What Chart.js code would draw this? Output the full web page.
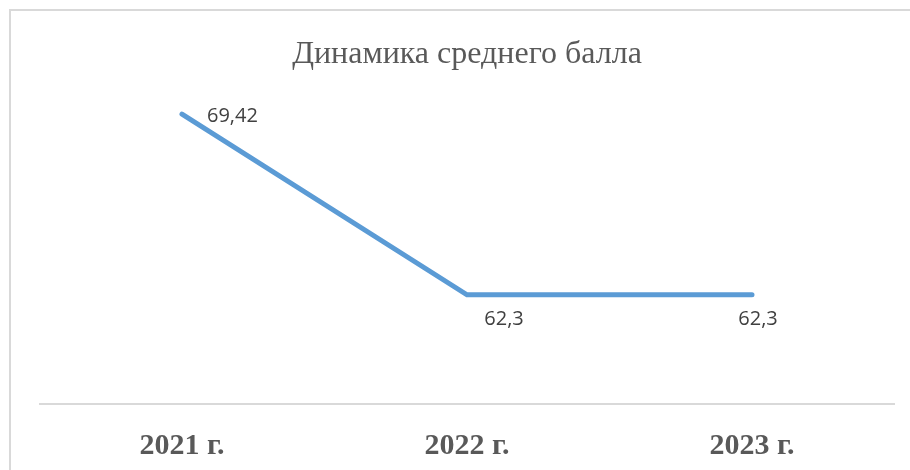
<!DOCTYPE html>
<html>
<head>
<meta charset="utf-8">
<script src="https://cdn.jsdelivr.net/npm/chart.js@4"></script>
<style>
  html, body { margin: 0; padding: 0; background: #ffffff; }
  #wrap { position: relative; width: 910px; height: 470px; overflow: hidden; }
  #frame { position: absolute; left: 9px; top: 9px; width: 940px; height: 500px; border: 2px solid #d9d9d9; box-sizing: border-box; }
  #c { position: absolute; left: 0; top: 0; }
</style>
</head>
<body>
<div id="wrap">
  <div id="frame"></div>
  <canvas id="c" width="910" height="470"></canvas>
</div>
<script>
const categories = ['2021 г.', '2022 г.', '2023 г.'];
const averageScore = [69.42, 62.3, 62.3];
const valueLabels = ['69,42', '62,3', '62,3'];
const chartTitle = 'Динамика среднего балла';

// label placement (style): dx, dy from point, text alignment
const labelPlacement = [
  { dx: 25, dy: 2, align: 'left' },
  { dx: 37, dy: 24, align: 'center' },
  { dx: 6, dy: 24, align: 'center' }
];

const valueLabelPlugin = {
  id: 'valueLabels',
  afterDatasetsDraw(chart) {
    const ctx = chart.ctx;
    const meta = chart.getDatasetMeta(0);
    ctx.save();
    ctx.font = '20px "Open Sans", sans-serif';
    ctx.fillStyle = '#404040';
    ctx.textBaseline = 'middle';
    meta.data.forEach((pt, i) => {
      const p = labelPlacement[i];
      ctx.textAlign = p.align;
      ctx.fillText(valueLabels[i], pt.x + p.dx, pt.y + p.dy);
    });
    ctx.restore();
  }
};

new Chart(document.getElementById('c'), {
  type: 'line',
  data: {
    labels: categories,
    datasets: [{
      data: averageScore,
      borderColor: '#5B9BD5',
      borderWidth: 5,
      borderCapStyle: 'round',
      borderJoinStyle: 'miter',
      pointRadius: 0,
      pointHoverRadius: 0,
      tension: 0,
      fill: false
    }]
  },
  options: {
    responsive: false,
    animation: false,
    events: [],
    layout: { padding: { left: 39.5, right: 15.5, top: 25, bottom: 0 } },
    plugins: {
      legend: { display: false },
      tooltip: { enabled: false },
      title: {
        display: true,
        text: chartTitle,
        color: '#595959',
        font: { family: '"Liberation Serif", serif', size: 32, weight: 'normal' },
        padding: { top: 10, bottom: 26 }
      }
    },
    scales: {
      x: {
        offset: true,
        grid: { display: false, drawTicks: false },
        border: { display: true, color: '#d9d9d9', width: 2 },
        afterFit(scale) { scale.height = 66; },
        ticks: {
          color: '#595959',
          padding: 24,
          font: { family: '"Liberation Serif", serif', size: 30, weight: 'bold' },
          maxRotation: 0
        }
      },
      y: {
        display: false,
        min: 58,
        max: 70
      }
    }
  },
  plugins: [valueLabelPlugin]
});
</script>
</body>
</html>
